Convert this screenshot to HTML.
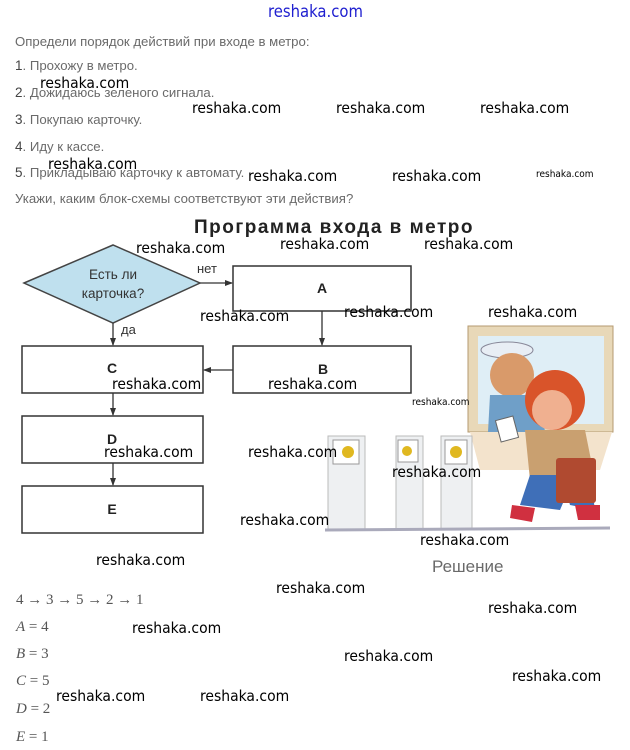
<!DOCTYPE html>
<html><head><meta charset="utf-8"><style>
body{margin:0;width:630px;height:750px;background:#fff;position:relative;overflow:hidden;font-family:"Liberation Sans",sans-serif}
.t{position:absolute;white-space:nowrap;color:#6a6a6a;font-size:13.2px;line-height:14px}
.t b{color:#444;font-weight:normal;font-size:13.5px}
.w{position:absolute;white-space:nowrap;color:#000;font-size:15.5px;line-height:16px;font-family:"DejaVu Sans Condensed","Liberation Sans",sans-serif}
.m{position:absolute;white-space:nowrap;color:#555;font-family:"Liberation Serif",serif;font-size:15px;line-height:16px}
.m i{font-style:italic}
</style></head><body>
<div class="t" style="left:268px;top:3px;color:#2020d0;font-size:16.5px;line-height:18px;font-family:'DejaVu Sans Condensed','Liberation Sans',sans-serif">reshaka.com</div>
<div class="t" style="left:15px;top:35px">Определи порядок действий при входе в метро:</div>
<div class="t" style="left:15px;top:59px"><b>1</b>. Прохожу в метро.</div>
<div class="t" style="left:15px;top:86px"><b>2</b>. Дожидаюсь зеленого сигнала.</div>
<div class="t" style="left:15px;top:113px"><b>3</b>. Покупаю карточку.</div>
<div class="t" style="left:15px;top:140px"><b>4</b>. Иду к кассе.</div>
<div class="t" style="left:15px;top:166px"><b>5</b>. Прикладываю карточку к автомату.</div>
<div class="t" style="left:15px;top:192px">Укажи, каким блок-схемы соответствуют эти действия?</div>

<svg style="position:absolute;left:0;top:0" width="630" height="560">
<defs><marker id="ar" markerWidth="8" markerHeight="8" refX="7" refY="4" orient="auto" markerUnits="userSpaceOnUse"><path d="M0,1 L8,4 L0,7 Z" fill="#333"/></marker></defs>
<text x="334" y="233" text-anchor="middle" font-family="Liberation Sans" font-weight="bold" font-size="19" fill="#222" letter-spacing="1.5">Программа  входа  в  метро</text>
<polygon points="24,283 113,245 200,283 113,323" fill="#bfe0ee" stroke="#444" stroke-width="1.5"/>
<text x="113" y="279" text-anchor="middle" font-size="13.5" fill="#333" font-family="Liberation Sans">Есть ли</text>
<text x="113" y="298" text-anchor="middle" font-size="13.5" fill="#333" font-family="Liberation Sans">карточка?</text>
<text x="197" y="273" font-size="13" fill="#333" font-family="Liberation Sans">нет</text>
<text x="121" y="334" font-size="13" fill="#333" font-family="Liberation Sans">да</text>
<g fill="#fff" stroke="#333" stroke-width="1.5">
<rect x="233" y="266" width="178" height="45"/>
<rect x="233" y="346" width="178" height="47"/>
<rect x="22" y="346" width="181" height="47"/>
<rect x="22" y="416" width="181" height="47"/>
<rect x="22" y="486" width="181" height="47"/>
</g>
<g font-family="Liberation Sans" font-weight="bold" font-size="14" fill="#222" text-anchor="middle">
<text x="322" y="293">A</text><text x="323" y="374">B</text><text x="112" y="373">C</text><text x="112" y="444">D</text><text x="112" y="514">E</text>
</g>
<g stroke="#333" stroke-width="1.3" marker-end="url(#ar)">
<line x1="200" y1="283" x2="232" y2="283"/>
<line x1="322" y1="311" x2="322" y2="345"/>
<line x1="233" y1="370" x2="204" y2="370"/>
<line x1="113" y1="323" x2="113" y2="345"/>
<line x1="113" y1="393" x2="113" y2="415"/>
<line x1="113" y1="463" x2="113" y2="485"/>
</g>
<rect x="468" y="326" width="145" height="106" fill="#e8d8b8" stroke="#b59a70"/>
<rect x="478" y="336" width="126" height="88" fill="#dfeef6"/>
<path d="M470,432 L612,432 L600,470 L480,470 Z" fill="#f3e3cc"/>
<rect x="328" y="436" width="37" height="94" fill="#eef0f2" stroke="#bbb"/>
<rect x="396" y="436" width="27" height="94" fill="#eef0f2" stroke="#bbb"/>
<rect x="441" y="436" width="31" height="94" fill="#eef0f2" stroke="#bbb"/>
<rect x="333" y="440" width="26" height="24" fill="#fff" stroke="#999"/>
<rect x="398" y="440" width="20" height="22" fill="#fff" stroke="#999"/>
<rect x="445" y="440" width="22" height="24" fill="#fff" stroke="#999"/>
<circle cx="348" cy="452" r="6" fill="#e0b820"/><circle cx="407" cy="451" r="5" fill="#e0b820"/><circle cx="456" cy="452" r="6" fill="#e0b820"/>
<line x1="325" y1="530" x2="610" y2="528" stroke="#aab" stroke-width="3"/>
<ellipse cx="507" cy="350" rx="26" ry="8" fill="#e8eef5" stroke="#889"/>
<ellipse cx="512" cy="375" rx="22" ry="22" fill="#d99a6a"/>
<path d="M490,395 L540,395 L545,432 L488,432 Z" fill="#6f9fc8"/>
<ellipse cx="555" cy="400" rx="30" ry="30" fill="#d9542a"/>
<ellipse cx="552" cy="410" rx="20" ry="20" fill="#f0b090"/>
<rect x="498" y="418" width="18" height="22" fill="#fff" stroke="#666" transform="rotate(-15 507 429)"/>
<path d="M525,430 L585,430 L595,480 L530,480 Z" fill="#c9a070"/>
<path d="M530,475 L575,475 L560,510 L520,505 Z" fill="#3f6fb8"/>
<path d="M560,470 L590,475 L595,510 L570,505 Z" fill="#3f6fb8"/>
<rect x="556" y="458" width="40" height="45" fill="#b04a30" rx="3"/>
<path d="M512,505 L535,508 L532,522 L510,518 Z" fill="#d03040"/>
<path d="M575,505 L600,505 L600,520 L578,520 Z" fill="#d03040"/>
</svg>

<div class="w" style="left:40px;top:75px">reshaka.com</div>
<div class="w" style="left:192px;top:100px">reshaka.com</div>
<div class="w" style="left:336px;top:100px">reshaka.com</div>
<div class="w" style="left:480px;top:100px">reshaka.com</div>
<div class="w" style="left:48px;top:156px">reshaka.com</div>
<div class="w" style="left:248px;top:168px">reshaka.com</div>
<div class="w" style="left:392px;top:168px">reshaka.com</div>
<div class="w" style="left:536px;top:169px;font-size:10px;line-height:12px">reshaka.com</div>
<div class="w" style="left:136px;top:240px">reshaka.com</div>
<div class="w" style="left:280px;top:236px">reshaka.com</div>
<div class="w" style="left:424px;top:236px">reshaka.com</div>
<div class="w" style="left:200px;top:308px">reshaka.com</div>
<div class="w" style="left:344px;top:304px">reshaka.com</div>
<div class="w" style="left:488px;top:304px">reshaka.com</div>
<div class="w" style="left:112px;top:376px">reshaka.com</div>
<div class="w" style="left:268px;top:376px">reshaka.com</div>
<div class="w" style="left:412px;top:397px;font-size:10px;line-height:12px">reshaka.com</div>
<div class="w" style="left:104px;top:444px">reshaka.com</div>
<div class="w" style="left:248px;top:444px">reshaka.com</div>
<div class="w" style="left:392px;top:464px">reshaka.com</div>
<div class="w" style="left:240px;top:512px">reshaka.com</div>
<div class="w" style="left:420px;top:532px">reshaka.com</div>
<div class="w" style="left:96px;top:552px">reshaka.com</div>
<div class="t" style="left:432px;top:557px;font-size:17px;line-height:20px">Решение</div>
<div class="w" style="left:276px;top:580px">reshaka.com</div>
<div class="w" style="left:488px;top:600px">reshaka.com</div>
<div class="w" style="left:132px;top:620px">reshaka.com</div>
<div class="w" style="left:344px;top:648px">reshaka.com</div>
<div class="w" style="left:512px;top:668px">reshaka.com</div>
<div class="w" style="left:56px;top:688px">reshaka.com</div>
<div class="w" style="left:200px;top:688px">reshaka.com</div>
<div class="m" style="left:16px;top:592px">4 → 3 → 5 → 2 → 1</div>
<div class="m" style="left:16px;top:619px"><i>A</i> = 4</div>
<div class="m" style="left:16px;top:646px"><i>B</i> = 3</div>
<div class="m" style="left:16px;top:673px"><i>C</i> = 5</div>
<div class="m" style="left:16px;top:701px"><i>D</i> = 2</div>
<div class="m" style="left:16px;top:729px"><i>E</i> = 1</div>
</body></html>
